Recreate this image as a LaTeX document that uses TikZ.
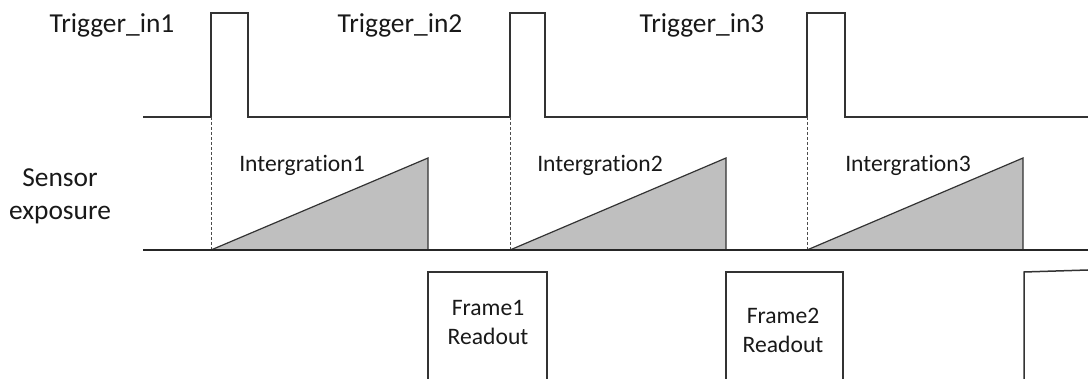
\documentclass[tikz,border=0pt]{standalone}
\usepackage{fontspec}
\setmainfont{Carlito}[Ligatures={NoCommon}]
\tikzset{
	wave/.style={line width=0.75pt, color=black!80},
	ramp/.style={line width=0.6pt, draw=black!80, fill=black!25},
	guide/.style={line width=0.4pt, color=black!70, dash pattern=on 1.5pt off 1pt},
	biglbl/.style={text=black!90, font=\fontsize{13.7}{16.5}\selectfont, align=center, inner sep=0pt},
	smalllbl/.style={text=black!90, font=\fontsize{11.8}{14.5}\selectfont, align=center, inner sep=0pt}
}
\begin{document}
\begin{tikzpicture}[x=0.5pt, y=-0.5pt]
	%%%%% START %%%%%
	\useasboundingbox[fill=white] (0, 0) rectangle (1088, 379);
	
	% trigger line
	\draw[wave] (143, 117) -- (211, 117) -- (211, 13) -- (248, 13) -- (248, 117)
		-- (510, 117) -- (510, 13) -- (545, 13) -- (545, 117)
		-- (807, 117) -- (807, 13) -- (845, 13) -- (845, 117) -- (1088, 117);
	
	\node[biglbl] (trig1) at (112, 25) {Trigger\_in1};
	\node[biglbl] (trig2) at (400, 25) {Trigger\_in2};
	\node[biglbl] (trig3) at (702, 25) {Trigger\_in3};
	
	\node[biglbl] (sensor) at (60, 196) {Sensor\\exposure};
	
	% integration ramps
	\foreach \r/\t/\lx/\n in {211/428/302/1, 510/726/600/2, 807/1023/908/3}{
		\draw[ramp] (\r, 250) -- (\t, 158) -- (\t, 250) -- cycle;
		\draw[guide] (\r, 117) -- (\r, 250);
		\node[smalllbl] (integ\n) at (\lx, 165) {Intergration\n};
	}
	
	\draw[line width=1pt, color=black!85] (143, 250) -- (1088, 250);
	
	% readout boxes
	\draw[wave] (428, 379) -- (428, 272) -- (547, 272) -- (547, 379);
	\node[smalllbl] (read1) at (488, 322) {Frame1\\Readout};
	
	\draw[wave] (726, 379) -- (726, 272) -- (843, 272) -- (843, 379);
	\node[smalllbl] (read2) at (783, 330) {Frame2\\Readout};
	
	\draw[wave] (1024, 379) -- (1024, 272) -- (1088, 270);
	
	%%%%% END %%%%%
\end{tikzpicture}
\end{document}
